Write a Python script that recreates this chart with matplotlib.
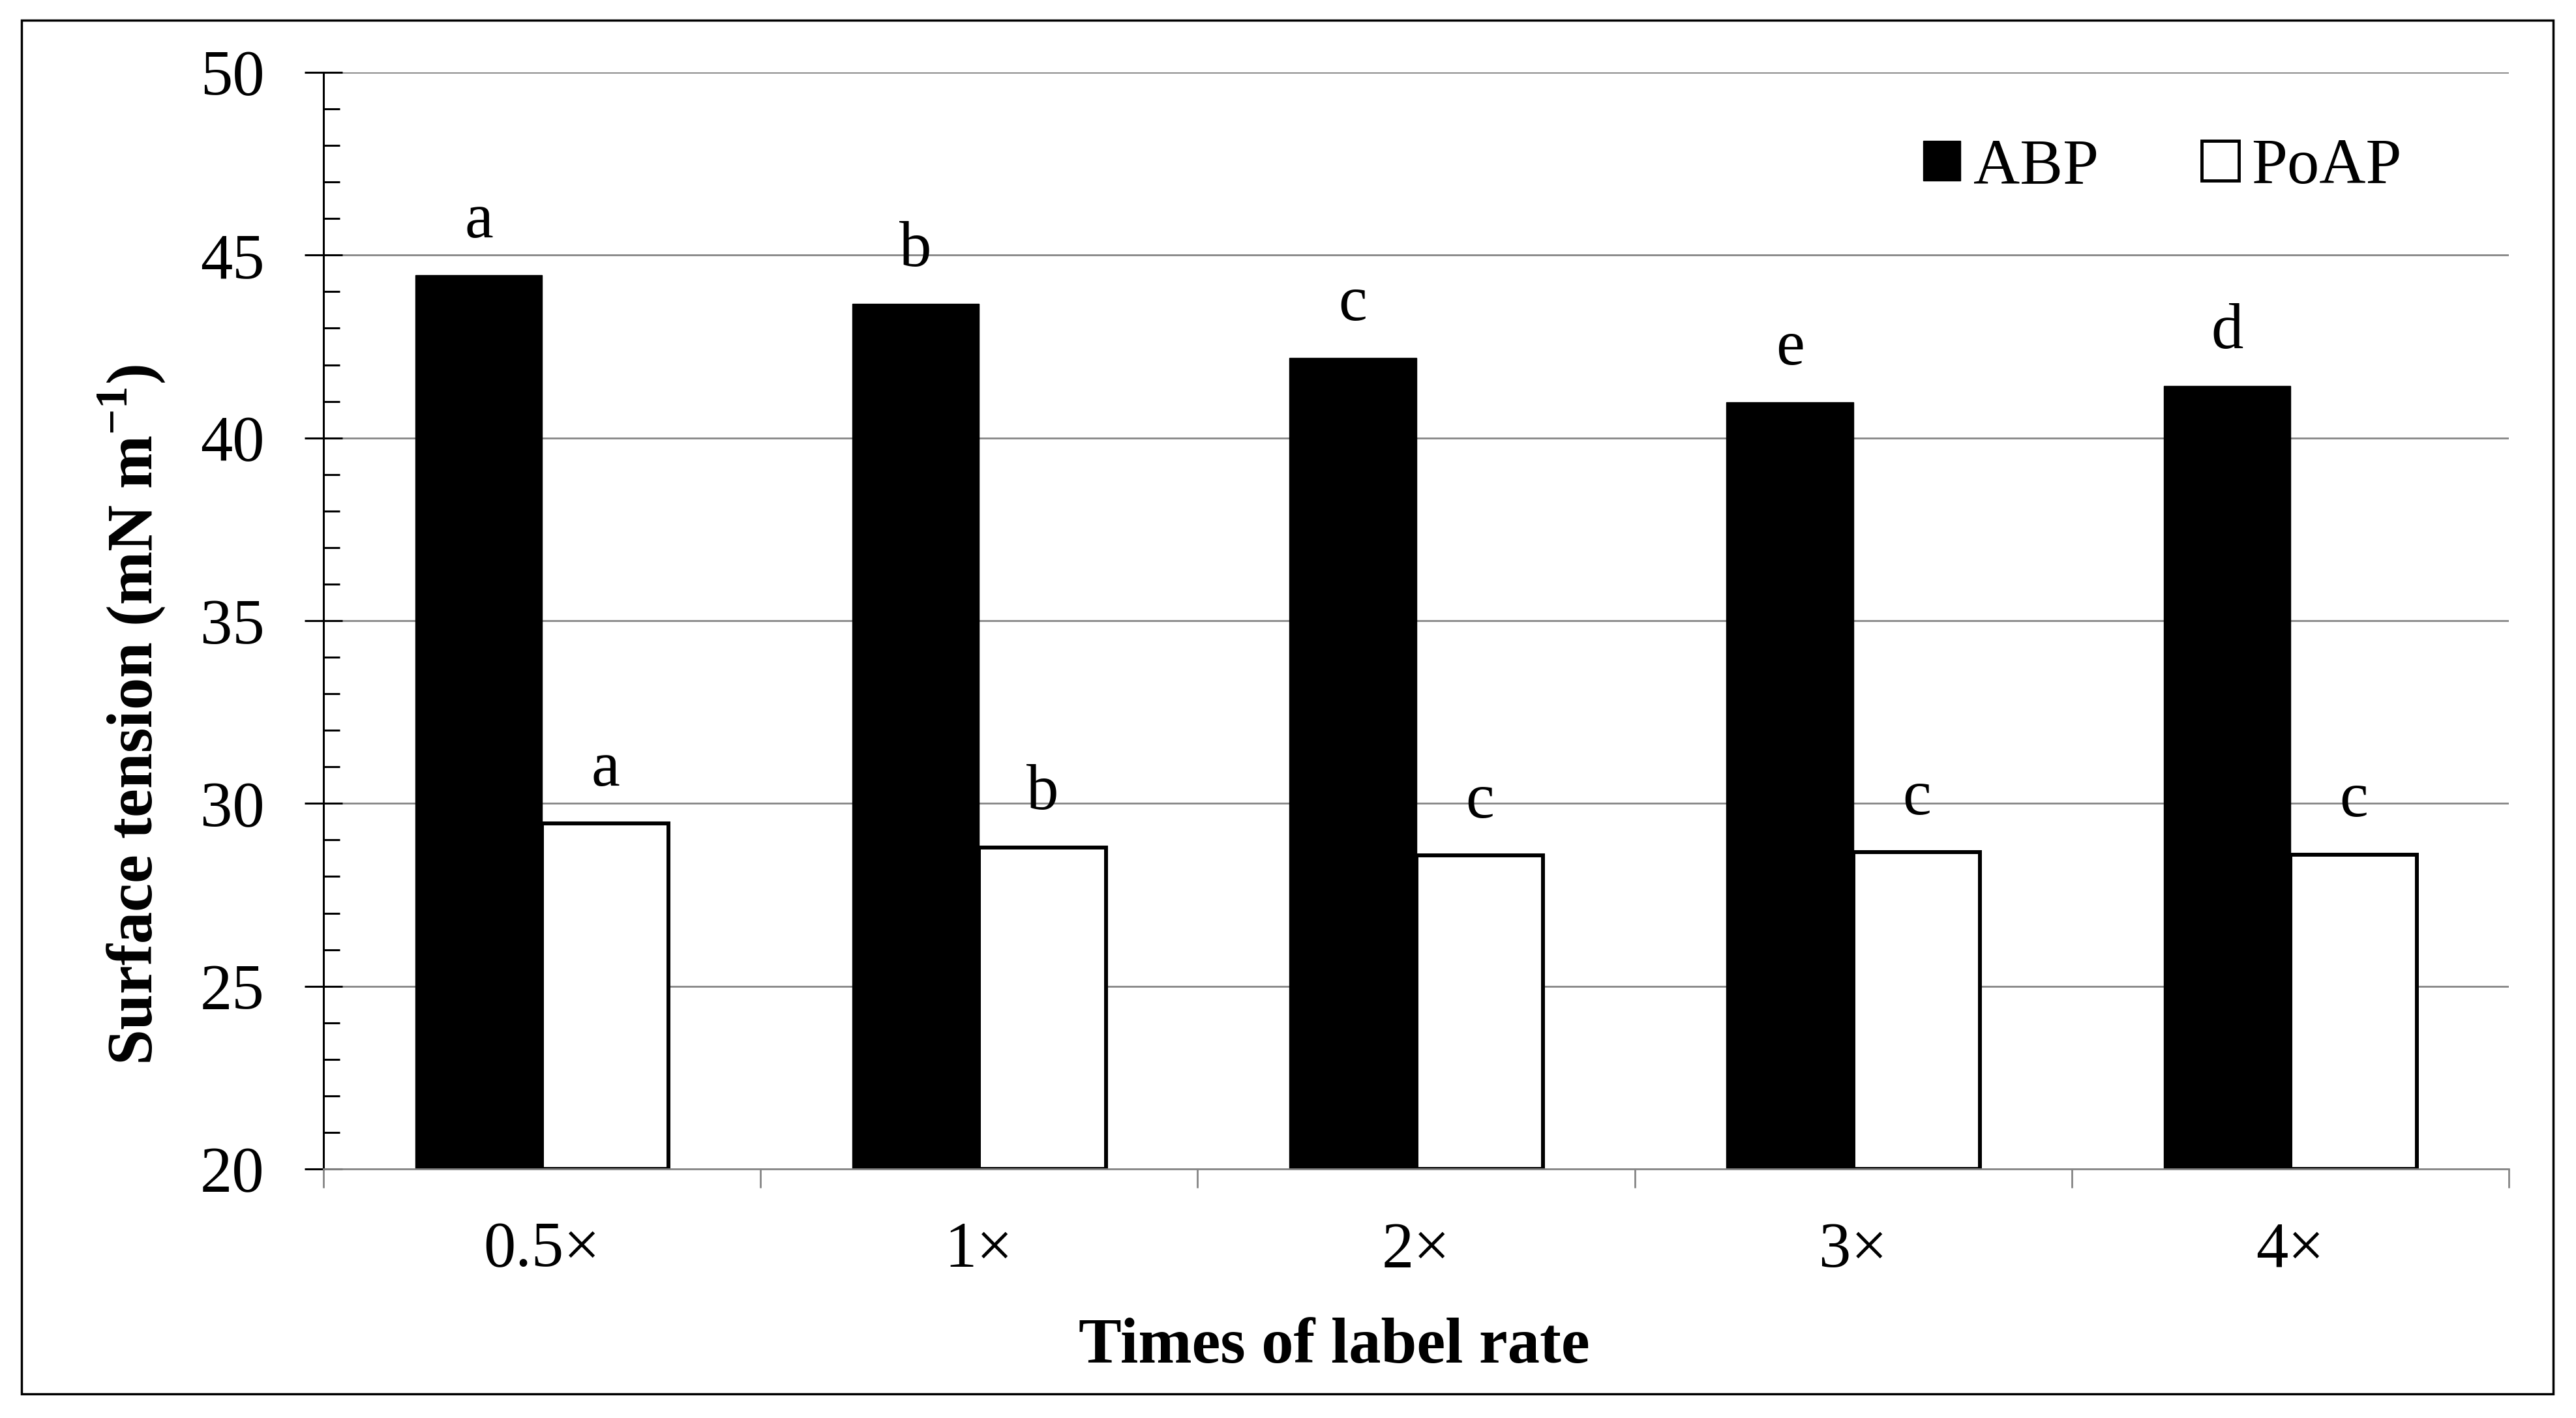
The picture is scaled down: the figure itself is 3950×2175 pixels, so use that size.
import matplotlib
matplotlib.use('Agg')
import matplotlib.pyplot as plt
from matplotlib.patches import Patch, Rectangle
from matplotlib.ticker import MultipleLocator
import numpy as np

categories = ['0.5×', '1×', '2×', '3×', '4×']
abp = [44.45, 43.66, 42.18, 40.97, 41.42]
poap = [29.45, 28.80, 28.58, 28.67, 28.60]
abp_letters = ['a', 'b', 'c', 'e', 'd']
poap_letters = ['a', 'b', 'c', 'c', 'c']
series_names = ['ABP', 'PoAP']

plt.rcParams['font.family'] = ['Liberation Serif', 'DejaVu Serif']
plt.rcParams['mathtext.fontset'] = 'custom'
plt.rcParams['mathtext.rm'] = 'Liberation Serif'
plt.rcParams['mathtext.bf'] = 'Liberation Serif:bold'

W, H = 3950, 2175
fig = plt.figure(figsize=(W / 100, H / 100), dpi=100)
ax = fig.add_axes([496 / W, 1 - 1793 / H, (3847 - 496) / W, (1793 - 111) / H])

FS = 71
x = np.arange(len(categories)) + 0.5
w = 0.29
ax.bar(x - 0.145, np.array(abp) - 20, w, bottom=20, color='black', edgecolor='black', linewidth=1, zorder=2)
ax.bar(x + 0.145, np.array(poap) - 20, w, bottom=20, color='white', edgecolor='black', linewidth=4.3, zorder=2)

for xi, v, l in zip(x - 0.145, abp, abp_letters):
    ax.annotate(l, (xi, v), xytext=(0, 42), textcoords='offset points', ha='center', va='baseline', fontsize=FS)
for xi, v, l in zip(x + 0.145, poap, poap_letters):
    ax.annotate(l, (xi, v), xytext=(0, 42), textcoords='offset points', ha='center', va='baseline', fontsize=FS)

ax.set_ylim(20, 50)
ax.set_xlim(0, len(categories))
ax.set_yticks(np.arange(20, 51, 5))
ax.yaxis.set_minor_locator(MultipleLocator(1))
ax.tick_params(axis='y', which='major', direction='inout', length=42, width=2.2, pad=44, labelsize=FS, color='black')
ax.tick_params(axis='y', which='minor', direction='in', length=18, width=2.2, color='black')

ax.set_xticks(np.arange(len(categories) + 1))
ax.set_xticklabels([])
ax.set_xticks(x, minor=True)
ax.set_xticklabels(categories, minor=True)
ax.tick_params(axis='x', which='major', direction='out', length=21, width=2, color='#868686')
ax.tick_params(axis='x', which='minor', length=0, pad=58, labelsize=FS)

for s in ['top', 'right']:
    ax.spines[s].set_visible(False)
ax.spines['left'].set_color('black')
ax.spines['left'].set_linewidth(2.2)
ax.spines['bottom'].set_color('#868686')
ax.spines['bottom'].set_linewidth(2)

ax.yaxis.grid(True, which='major', color='#868686', linewidth=2)
ax.set_axisbelow(True)

fig.text(202 / W, 1 - 1096 / H, 'Surface tension (mN m$^{\\mathbf{-1}}$)', rotation=90,
         ha='center', va='center', fontsize=FS, fontweight='bold')
fig.text(2046 / W, 1 - 2066 / H, 'Times of label rate', ha='center', va='center',
         fontsize=FS, fontweight='bold')

handles = [Patch(facecolor='black', edgecolor='black'),
           Patch(facecolor='white', edgecolor='black', linewidth=3.5)]
ax.legend(handles=handles, labels=series_names, ncol=2, frameon=False,
          handlelength=0.58, handleheight=0.58, handletextpad=0.2, columnspacing=1.6,
          fontsize=FS, loc='center', bbox_to_anchor=(3316 / W, 1 - 257 / H),
          bbox_transform=fig.transFigure, borderpad=0)

fig.patches.append(Rectangle((33 / W, 1 - 2138 / H), (3915 - 33) / W, (2138 - 31) / H,
                             transform=fig.transFigure, fill=False, edgecolor='black', linewidth=2.5))

fig.savefig('out.png', dpi=100)
